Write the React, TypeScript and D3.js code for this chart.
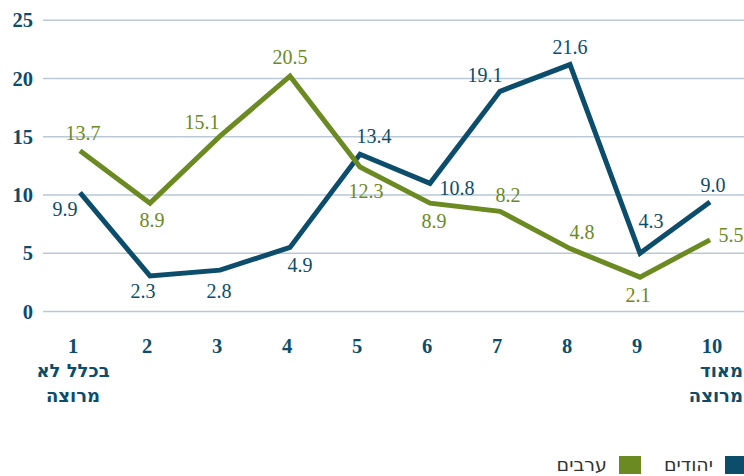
import React from "react";
import * as d3 from "d3";

const categories = ["1", "2", "3", "4", "5", "6", "7", "8", "9", "10"];
const categorySub = [["בכלל לא", "מרוצה"], [], [], [], [], [], [], [], [], ["מאוד", "מרוצה"]];
const yTicks = [0, 5, 10, 15, 20, 25];

const seriesNames = ["יהודים", "ערבים"];
// plotted positions
const jewsValues = [10.2, 3.05, 3.55, 5.5, 13.5, 11.0, 18.9, 21.2, 5.0, 9.4];
const arabsValues = [13.8, 9.3, 15.05, 20.2, 12.4, 9.3, 8.6, 5.4, 2.95, 6.15];
// printed data labels
const jewsLabels = ["9.9", "2.3", "2.8", "4.9", "13.4", "10.8", "19.1", "21.6", "4.3", "9.0"];
const arabsLabels = ["13.7", "8.9", "15.1", "20.5", "12.3", "8.9", "8.2", "4.8", "2.1", "5.5"];

const BLUE = "#0c4d6b";
const GREEN = "#6b8a22";
const GRID = "#b9c9d5";

// label offsets (layout)
const jewsOff: [number, number][] = [[-15, 23], [-7, 22], [-1, 28], [10, 25], [14, -11], [27, 12], [-15, -9], [0, -11], [11, -25], [3, -10]];
const arabsOff: [number, number][] = [[3, -11], [2, 24], [-18, -7], [0, -12], [6, 31], [4, 25], [8, -9], [12, -10], [-2, 25], [21, 2]];

export default function App() {
  const W = 744, H = 476;
  const x = d3.scaleLinear().domain([0, 9]).range([80, 710]);
  const y = d3.scaleLinear().domain([0, 25]).range([311.5, 20.3]);
  const line = d3.line<number>().x((_, i) => x(i)).y((d) => y(d));
  const font = "'Liberation Serif', 'DejaVu Serif', serif";
  const hebFont = "'DejaVu Sans', sans-serif";

  const series = [
    { values: jewsValues, labels: jewsLabels, off: jewsOff, color: BLUE },
    { values: arabsValues, labels: arabsLabels, off: arabsOff, color: GREEN },
  ];

  return (
    <svg width={W} height={H} style={{ position: "absolute", left: 0, top: 0 }} fontFamily={font}>
      <rect width={W} height={H} fill="#fff" />
      {yTicks.map((t) => (
        <g key={t}>
          <line x1={43} x2={744} y1={y(t)} y2={y(t)} stroke={GRID} strokeWidth={1.5} />
          <text x={33} y={y(t) + 7} textAnchor="end" fontSize={20.5} fontWeight="bold" fill={BLUE}>{t}</text>
        </g>
      ))}
      {categories.map((c, i) => {
        const sub = categorySub[i];
        const cx = i === 0 ? x(i) - 7 : i === 9 ? x(i) + 2 : x(i) - 3;
        const first = i === 0;
        return (
          <g key={c}>
            <text x={cx} y={353} textAnchor="middle" fontSize={20.5} fontWeight="bold" fill={BLUE}>{c}</text>
            {sub.map((s, j) => (
              <text key={j} x={first ? 73 : 743} y={377 + j * 25} textAnchor={first ? "middle" : "start"} direction="rtl"
                fontFamily={hebFont} fontSize={18} fontWeight="bold" fill={BLUE}>{s}</text>
            ))}
          </g>
        );
      })}
      {series.map((s, k) => (
        <path key={k} d={line(s.values) || ""} fill="none" stroke={s.color} strokeWidth={5} strokeLinejoin="miter" />
      ))}
      {series.map((s, k) => (
        <g key={"l" + k}>
          {s.values.map((v, i) => (
            <text key={i} x={x(i) + s.off[i][0]} y={y(v) + s.off[i][1]} textAnchor="middle" fontSize={20} fill={s.color}>{s.labels[i]}</text>
          ))}
        </g>
      ))}
      <g fontFamily={hebFont}>
        <rect x={725} y={456} width={19} height={18} fill={BLUE} />
        <text x={713} y={471} textAnchor="start" direction="rtl" fontSize={19} fill="#333">{seriesNames[0]}</text>
        <rect x={619} y={456} width={22} height={18} fill={GREEN} />
        <text x={607} y={471} textAnchor="start" direction="rtl" fontSize={19} fill="#333">{seriesNames[1]}</text>
      </g>
    </svg>
  );
}
